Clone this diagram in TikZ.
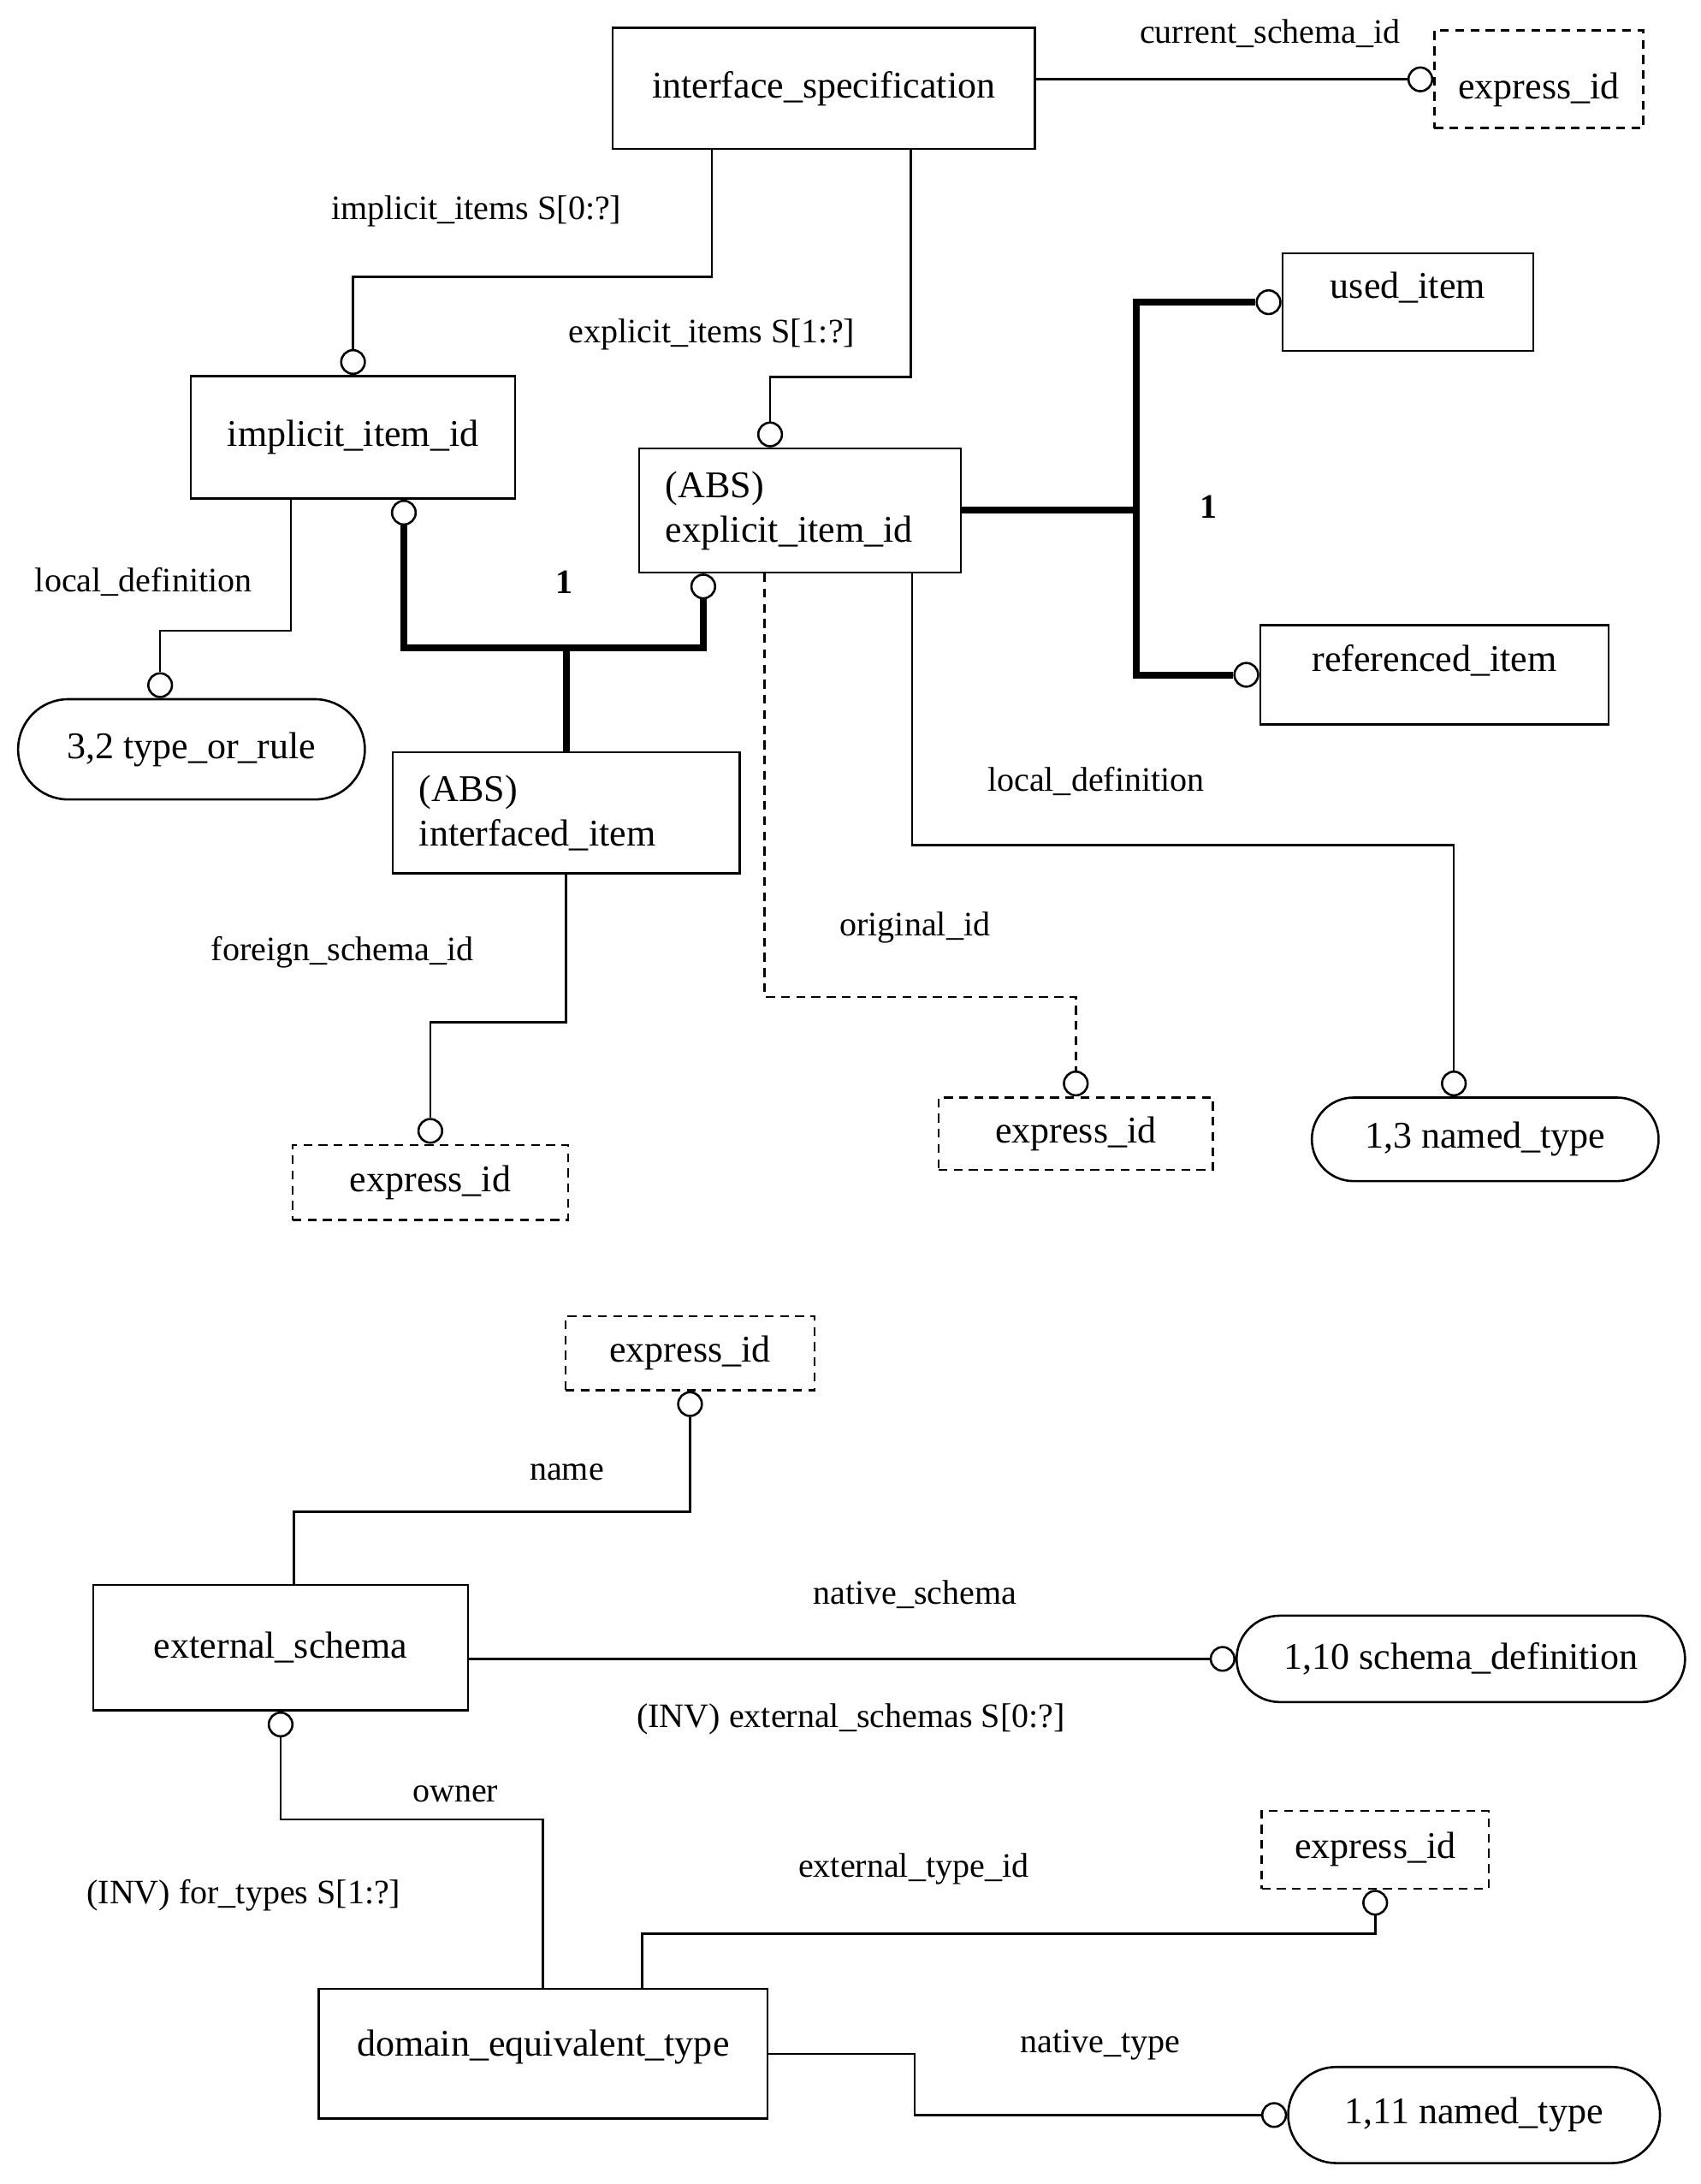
\documentclass[tikz,border=0pt]{standalone}
\usepackage{fontspec}
\setmainfont{Liberation Serif}
\usetikzlibrary{shapes.misc,positioning}

\begin{document}
\begin{tikzpicture}[
ent/.style={draw, line width=0.9pt, inner sep=0pt, align=center, font=\fontsize{15.4}{18}\selectfont},
absent/.style={draw, line width=0.9pt, inner xsep=0.38cm, inner ysep=0pt, align=left, font=\fontsize{15.4}{18.2}\selectfont},
idbox/.style={ent, dash pattern=on 3.6pt off 2.6pt},
typ/.style={draw, rounded rectangle, line width=0.9pt, inner sep=0pt, font=\fontsize{15.4}{18}\selectfont},
ring/.style={circle, draw, line width=0.9pt, fill=white, inner sep=0pt, minimum size=0.34cm},
lbl/.style={font=\fontsize{14}{17}\selectfont},
rel/.style={line width=0.9pt},
optline/.style={line width=0.9pt, dash pattern=on 3.6pt off 2.6pt},
subline/.style={line width=2.8pt}
]
\useasboundingbox (0,0) rectangle (24.42,31.36);

\node[ent, minimum width=6.06cm, minimum height=1.74cm] (ispec) at (11.83,30.09) {interface\_specification};
\node[idbox, minimum width=3.0cm, minimum height=1.4cm, text height=18.5pt, text depth=2.8pt] (eidcur) at (22.1,30.22) {express\_id};
\node[ent, minimum width=3.6cm, minimum height=1.4cm, text height=10.5pt, text depth=14pt] (used) at (20.22,27.02) {used\_item};
\node[ent, minimum width=5.0cm, minimum height=1.42cm, text height=10.5pt, text depth=13pt] (refd) at (20.6,21.67) {referenced\_item};
\node[ent, minimum width=4.66cm, minimum height=1.76cm] (impl) at (5.07,25.08) {implicit\_item\_id};
\node[absent, text width=3.86cm, minimum height=1.78cm] (expl) at (11.49,24.03) {(ABS)\\explicit\_item\_id};
\node[absent, text width=4.22cm, minimum height=1.74cm] (ifc) at (8.13,19.69) {(ABS)\\interfaced\_item};
\node[typ, minimum width=4.98cm, minimum height=1.44cm] (tor) at (2.75,20.6) {3,2 type\_or\_rule};
\node[idbox, minimum width=3.96cm, minimum height=1.08cm] (eidfor) at (6.18,14.38) {express\_id};
\node[idbox, minimum width=3.94cm, minimum height=1.04cm] (eidorig) at (15.45,15.08) {express\_id};
\node[typ, minimum width=4.98cm, minimum height=1.2cm] (ntloc) at (21.33,15.0) {1,3 named\_type};

\node[idbox, minimum width=3.58cm, minimum height=1.06cm] (eidname) at (9.91,11.93) {express\_id};
\node[ent, minimum width=5.38cm, minimum height=1.8cm] (exts) at (4.03,7.70) {external\_schema};
\node[typ, minimum width=6.44cm, minimum height=1.24cm] (sdef) at (20.98,7.54) {1,10 schema\_definition};
\node[ent, minimum width=6.44cm, minimum height=1.86cm, text height=10.5pt, text depth=8.5pt] (dom) at (7.8,1.87) {domain\_equivalent\_type};
\node[idbox, minimum width=3.26cm, minimum height=1.12cm] (eidext) at (19.75,4.8) {express\_id};
\node[typ, minimum width=5.34cm, minimum height=1.38cm] (ntnat) at (21.17,0.99) {1,11 named\_type};

\node[ring, anchor=east] (oCur) at (eidcur.west) {};
\node[ring, anchor=south] (oImplTop) at (impl.north) {};
\node[ring, anchor=south] (oExplTop) at ([xshift=-0.43cm]expl.north) {};
\node[ring, anchor=east] (oUsed) at (used.west) {};
\node[ring, anchor=east] (oRefd) at (refd.west) {};
\node[ring, anchor=north] (oImplSub) at ([xshift=0.73cm]impl.south) {};
\node[ring, anchor=north] (oExplSub) at ([xshift=-1.39cm]expl.south) {};
\node[ring, anchor=south] (oTor) at ([xshift=-0.45cm]tor.north) {};
\node[ring, anchor=south] (oFor) at (eidfor.north) {};
\node[ring, anchor=south] (oOrig) at (eidorig.north) {};
\node[ring, anchor=south] (oLoc) at ([xshift=-0.45cm]ntloc.north) {};
\node[ring, anchor=north] (oName) at (eidname.south) {};
\node[ring, anchor=east] (oNative) at (sdef.west) {};
\node[ring, anchor=north] (oOwner) at (exts.south) {};
\node[ring, anchor=north] (oExtType) at (eidext.south) {};
\node[ring, anchor=east] (oNatType) at (ntnat.west) {};

\draw[rel] (ispec.east |- oCur.west) -- (oCur.west);
\draw[rel] ([xshift=1.44cm]ispec.south west) -- ++(0,-1.82) -| (oImplTop.north);
\draw[rel] ([xshift=4.3cm]ispec.south west) -- ++(0,-3.26) -| (oExplTop.north);

\draw[subline] (expl.east) -- ++(2.5,0) coordinate (jTop);
\draw[subline] (oUsed.west) -| (jTop) |- (oRefd.west);
\draw[subline] (oImplSub.south) |- ([yshift=1.48cm]ifc.north) -| (oExplSub.south);
\draw[subline] (ifc.north) -- ++(0,1.48);

\draw[rel] ([xshift=-0.89cm]impl.south) -- ++(0,-1.88) -| (oTor.north);
\draw[rel] (ifc.south) -- ++(0,-2.12) -| (oFor.north);
\draw[optline] ([xshift=-0.51cm]expl.south) -- ++(0,-6.08) -| (oOrig.north);
\draw[rel] ([xshift=1.61cm]expl.south) -- ++(0,-3.9) -| (oLoc.north);

\draw[rel] ([xshift=0.19cm]exts.north) -- ++(0,1.04) -| (oName.south);
\draw[rel] (exts.east |- oNative.west) -- (oNative.west);
\draw[rel] (dom.north) -- ++(0,2.42) -| (oOwner.south);
\draw[rel] ([xshift=1.42cm]dom.north) -- ++(0,0.78) -| (oExtType.south);
\draw[rel] (dom.east) -- ++(2.1,0) |- (oNatType.west);

\node[lbl] (lCur) at (18.24,30.88) {current\_schema\_id};
\node[lbl] (lImpl) at (6.84,28.32) {implicit\_items S[0:?]};
\node[lbl] (lExpl) at (10.22,26.56) {explicit\_items S[1:?]};
\node[lbl, font=\fontsize{14}{17}\selectfont\bfseries] (lOneR) at (17.36,24.08) {1};
\node[lbl, font=\fontsize{14}{17}\selectfont\bfseries] (lOneL) at (8.1,23.0) {1};
\node[lbl] (lLocL) at (2.06,23.0) {local\_definition};
\node[lbl] (lLocR) at (15.74,20.14) {local\_definition};
\node[lbl] (lOrig) at (13.14,18.04) {original\_id};
\node[lbl] (lFor) at (4.92,17.68) {foreign\_schema\_id};

\node[lbl] (lName) at (8.14,10.22) {name};
\node[lbl] (lNatS) at (13.14,8.46) {native\_schema};
\node[lbl] (lInvS) at (12.22,6.68) {(INV) external\_schemas S[0:?]};
\node[lbl] (lOwner) at (6.54,5.6) {owner};
\node[lbl] (lInvT) at (3.5,4.14) {(INV) for\_types S[1:?]};
\node[lbl] (lExtT) at (13.12,4.52) {external\_type\_id};
\node[lbl] (lNatT) at (15.8,2.0) {native\_type};

\end{tikzpicture}
\end{document}
